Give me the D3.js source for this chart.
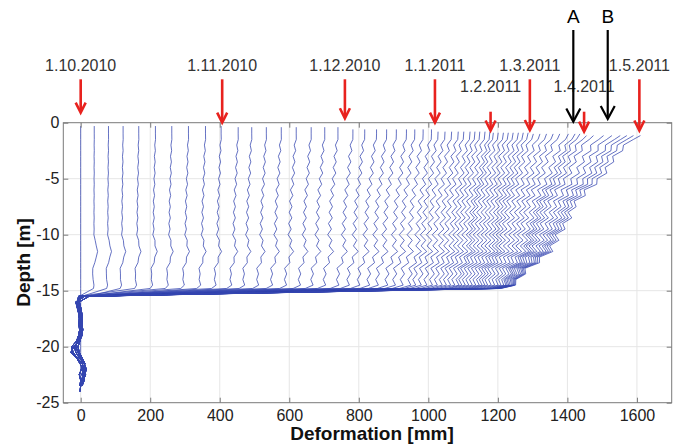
<!DOCTYPE html>
<html>
<head>
<meta charset="utf-8">
<script src="https://cdn.jsdelivr.net/npm/d3@7"></script>
<style>
    body { margin: 0; background: #fff; }
    svg { display: block; font-family: "Liberation Sans", Arial, sans-serif; }
</style>
</head>
<body>
<svg id="chart" width="681" height="447"></svg>
<script>
/*
    inclinometer.js
 */

/* global d3 : false
 */

// one entry per reading: deformation at the top of the tube [mm]
const profileTop = [
    0, 39, 80, 122, 167, 215, 262, 310, 359, 404,
    453, 492, 534, 577, 620, 663, 702, 740,
    783, 817, 851, 880, 908, 937, 961, 985, 1009,
    1028, 1048, 1067, 1086, 1102, 1120, 1134, 1148, 1163, 1177,
    1187, 1201, 1216, 1230, 1244, 1259, 1273, 1287,
    1302, 1321, 1340, 1359, 1378, 1403, 1422, 1436,
    1455, 1475, 1504, 1528, 1552, 1571, 1590, 1610
];
// deformation just above the shear zone (-14.5 m) [mm]
const profileBase = [
    0, 38, 77, 117, 160, 206, 251, 297, 344, 388,
    433, 470, 510, 550, 590, 630, 666, 702,
    740, 770, 800, 828, 853, 880, 902, 924, 946,
    960, 976, 992, 1008, 1022, 1036, 1048, 1060, 1072, 1084,
    1092, 1102, 1112, 1122, 1132, 1142, 1150, 1158,
    1166, 1176, 1186, 1196, 1204, 1212, 1218, 1222,
    1226, 1230, 1234, 1237, 1240, 1242, 1244, 1246
];
// depth of the first reading point [m]
const profileTopDepth = [
    -0.3, -0.3, -0.3, -0.3, -0.3, -0.3, -0.3, -0.3, -0.3, -0.3,
    -0.4, -0.4, -0.4, -0.4, -0.4, -0.4, -0.4, -0.4,
    -0.6, -0.6, -0.6, -0.6, -0.6, -0.6, -0.6, -0.6, -0.6,
    -0.8, -0.8, -0.8, -0.8, -0.8, -0.8, -0.8, -0.8, -0.8, -0.8,
    -0.9, -0.9, -0.9, -0.9, -0.9, -0.9, -0.9, -0.9,
    -1.0, -1.0, -1.0, -1.0, -1.0, -1.0, -1.0, -1.0,
    -1.15, -1.15, -1.15, -1.15, -1.15, -1.15, -1.15, -1.15
];
// how strong the zigzag of a reading is (0..1)
const profileZig = [
    0, 0.04, 0.08, 0.12, 0.15, 0.18, 0.21, 0.24, 0.27, 0.3,
    0.33, 0.36, 0.39, 0.42, 0.45, 0.48, 0.51, 0.54,
    0.57, 0.6, 0.62, 0.64, 0.66, 0.68, 0.7, 0.72, 0.74,
    0.76, 0.77, 0.78, 0.79, 0.8, 0.81, 0.82, 0.83, 0.84, 0.85,
    0.86, 0.87, 0.88, 0.89, 0.9, 0.91, 0.92, 0.93,
    0.94, 0.95, 0.96, 0.97, 0.98, 0.98, 0.99, 0.99,
    1, 1, 1, 1, 1, 1, 1, 1
];

// sliding body, read every 0.5 m
const upperDepth = [
    -1.0, -1.5, -2.0, -2.5, -3.0, -3.5, -4.0, -4.5, -5.0, -5.5, -6.0, -6.5, -7.0, -7.5,
    -8.0, -8.5, -9.0, -9.5, -10.0, -10.5, -11.0, -11.5, -12.0, -12.5, -13.0, -13.5, -14.0, -14.5
];
// share of (top - base) left at each depth
const upperLean = [
    1.0, 0.93, 0.88, 0.84, 0.8, 0.77, 0.74, 0.71, 0.68, 0.63, 0.58, 0.54, 0.5, 0.47,
    0.45, 0.43, 0.41, 0.38, 0.35, 0.32, 0.29, 0.25, 0.21, 0.17, 0.12, 0.08, 0.04, 0.0
];
// zigzag of the last readings [mm]
const upperZig = [
    0, 5, -5, 7, -7, 7, -7, 9, -8, 9, -9, 9, -9, 8,
    -8, 10, -9, 9, -9, 10, -10, 11, -10, 10, -9, 9, -7, 5
];
// small kink seen in every reading [mm]
const upperBump = [
    0, 0, 0, 0, 0, 0, 0, 0, 0, 0, 0, 0, 0, 0,
    0, 0, 0, 0, 0, 3, 7, 10, 7, 2, -3, -4, -2, 0
];

const shearDepth = -14.8;
const shearShare = 0.97;

// stable ground below the shear zone
const lowerDepth = [
    -15.5, -16.0, -16.5, -17.0, -17.5, -18.0, -18.5, -19.0, -19.5,
    -20.0, -20.5, -21.0, -21.5, -22.0, -22.5, -23.0, -23.5, -24.0
];
const lowerOffsets = [
    [12, -14, -10, -6, -4, -5, -3, -6, -12, -26, -22, -10, 4, 12, 8, 2, -2],
    [-4, -6, -3, 0, 2, 1, 3, 0, -8, -18, -14, -4, 10, 16, 12, 6, 2],
    [4, -10, -7, -4, -2, 0, 2, 4, -4, -20, -28, -12, -2, 6, 14, 8, 0, -2],
    [24, -4, 0, 3, 5, 4, 6, 2, -2, -8, -4, 4, 12, 8, 4, 10, 4],
    [-6, -9, -5, -2, 0, -2, 0, -3, -10, -14, -8, 0, 6, 2, -4, 0, -2]
];

const xTicks = [0, 200, 400, 600, 800, 1000, 1200, 1400, 1600];
const yTicks = [0, -5, -10, -15, -20, -25];

const markerLabels = ["1.10.2010", "1.11.2010", "1.12.2010", "1.1.2011", "1.2.2011", "1.3.2011", "1.4.2011", "1.5.2011"];
const markerDisp = [0, 407, 760, 1019, 1179, 1292, 1448, 1607];
const markerRow = [0, 0, 0, 0, 1, 0, 1, 0];
const markerTipDepth = [0.9, 0, 0.4, 0, -0.7, -0.65, -0.8, -0.7];

const letterLabels = ["A", "B"];
const letterDisp = [1417, 1516];
const letterTipDepth = [0.1, 0.33];

class InclinometerChart {
    constructor(selector) {
        this._svg = d3.select(selector);

        this._setupScales();
        this._setupData();
        this._drawGrid();
        this._drawProfiles();
        this._drawAxes();
        this._drawMarkers();
    }

    _setupScales() {
        this._x = d3.scaleLinear().domain([-50, 1700]).range([63.3, 671.7]);
        this._y = d3.scaleLinear().domain([-25, 0]).range([402.7, 122.7]);
    }

    _setupData() {
        const flat = lowerOffsets[3].map(() => 0);
        this._profiles = profileTop.map((top, i) => {
            const base = profileBase[i];
            const points = [{ d: profileTopDepth[i], x: top }];
            upperDepth.forEach((d, j) => {
                if (d < profileTopDepth[i] - 0.25) {
                    const bump = i > 0 ? upperBump[j] : 0;
                    points.push({ d, x: base + (top - base) * upperLean[j] + profileZig[i] * upperZig[j] + bump });
                }
            });
            points.push({ d: shearDepth, x: base * shearShare });
            const lower = i > 0 ? lowerOffsets[i % lowerOffsets.length] : flat;
            lower.forEach((x, j) => points.push({ d: lowerDepth[j], x }));
            return points;
        });
    }

    _drawGrid() {
        const g = this._svg.append("g").attr("class", "grid");
        const [x0, x1] = this._x.range();
        const [y0, y1] = this._y.range();
        g.selectAll("line.gx")
            .data(xTicks)
            .join("line")
            .attr("x1", d => this._x(d))
            .attr("x2", d => this._x(d))
            .attr("y1", y0)
            .attr("y2", y1);
        g.selectAll("line.gy")
            .data(yTicks.filter(d => d > -25 && d < 0))
            .join("line")
            .attr("x1", x0)
            .attr("x2", x1)
            .attr("y1", d => this._y(d))
            .attr("y2", d => this._y(d));
        g.selectAll("line").attr("stroke", "#e6e6e6").attr("stroke-width", 1);
    }

    _drawProfiles() {
        const line = d3
            .line()
            .x(p => this._x(p.x))
            .y(p => this._y(p.d));
        this._svg
            .append("g")
            .selectAll("path")
            .data(this._profiles)
            .join("path")
            .attr("d", line)
            .attr("fill", "none")
            .attr("stroke", "#3446b0")
            .attr("stroke-width", 0.9)
            .attr("stroke-opacity", 0.85);
    }

    _drawAxes() {
        const [x0, x1] = this._x.range();
        const [y0, y1] = this._y.range();
        const label = d => String(d);
        const style = g => {
            g.select(".domain").remove();
            g.selectAll(".tick line").attr("stroke", "#7a7a7a");
            g.selectAll(".tick text")
                .attr("fill", "#222")
                .attr("font-size", 16)
                .attr("font-family", "Liberation Sans, Arial, sans-serif");
        };

        this._svg
            .append("g")
            .attr("transform", `translate(0,${y0})`)
            .call(d3.axisBottom(this._x).tickValues(xTicks).tickFormat(label).tickSizeInner(-5).tickSizeOuter(0).tickPadding(6.6))
            .call(style);
        this._svg
            .append("g")
            .attr("transform", `translate(0,${y1})`)
            .call(d3.axisTop(this._x).tickValues(xTicks).tickSizeInner(-5).tickSizeOuter(0).tickFormat(""))
            .call(style);
        this._svg
            .append("g")
            .attr("transform", `translate(${x0},0)`)
            .call(d3.axisLeft(this._y).tickValues(yTicks).tickFormat(label).tickSizeInner(-5).tickSizeOuter(0).tickPadding(4))
            .call(style);
        this._svg
            .append("g")
            .attr("transform", `translate(${x1},0)`)
            .call(d3.axisRight(this._y).tickValues(yTicks).tickSizeInner(-5).tickSizeOuter(0).tickFormat(""))
            .call(style);

        this._svg
            .append("rect")
            .attr("x", x0)
            .attr("y", y1)
            .attr("width", x1 - x0)
            .attr("height", y0 - y1)
            .attr("fill", "none")
            .attr("stroke", "#7a7a7a")
            .attr("stroke-width", 1);

        this._svg
            .append("text")
            .attr("x", 372)
            .attr("y", 440)
            .attr("text-anchor", "middle")
            .attr("font-size", 19)
            .attr("font-weight", "bold")
            .attr("fill", "#111")
            .text("Deformation [mm]");
        this._svg
            .append("text")
            .attr("transform", "translate(30,262.5) rotate(-90)")
            .attr("text-anchor", "middle")
            .attr("font-size", 19)
            .attr("font-weight", "bold")
            .attr("fill", "#111")
            .text("Depth [m]");
    }

    _drawMarkers() {
        const rowText = [70.7, 91.7];
        const rowStart = [79.3, 111.7];
        const g = this._svg.append("g");

        markerLabels.forEach((label, i) => {
            const x = this._x(markerDisp[i]);
            const tip = this._y(markerTipDepth[i]);
            g.append("text")
                .attr("x", x)
                .attr("y", rowText[markerRow[i]])
                .attr("text-anchor", "middle")
                .attr("font-size", 16)
                .attr("fill", "#333")
                .text(label);
            g.append("line")
                .attr("x1", x)
                .attr("x2", x)
                .attr("y1", rowStart[markerRow[i]])
                .attr("y2", tip - 1)
                .attr("stroke", "#e8221e")
                .attr("stroke-width", 2.6);
            g.append("path")
                .attr("d", `M${x - 5},${tip - 10}L${x},${tip}L${x + 5},${tip - 10}`)
                .attr("fill", "none")
                .attr("stroke", "#e8221e")
                .attr("stroke-width", 2.6);
        });

        letterLabels.forEach((label, i) => {
            const x = this._x(letterDisp[i]);
            const tip = this._y(letterTipDepth[i]);
            g.append("text")
                .attr("x", x)
                .attr("y", 23)
                .attr("text-anchor", "middle")
                .attr("font-size", 19)
                .attr("fill", "#000")
                .text(label);
            g.append("line")
                .attr("x1", x)
                .attr("x2", x)
                .attr("y1", 30)
                .attr("y2", tip - 1)
                .attr("stroke", "#000")
                .attr("stroke-width", 2.2);
            g.append("path")
                .attr("d", `M${x - 7},${tip - 13}L${x},${tip}L${x + 7},${tip - 13}`)
                .attr("fill", "none")
                .attr("stroke", "#000")
                .attr("stroke-width", 2.2);
        });
    }
}

new InclinometerChart("#chart");
</script>
</body>
</html>
